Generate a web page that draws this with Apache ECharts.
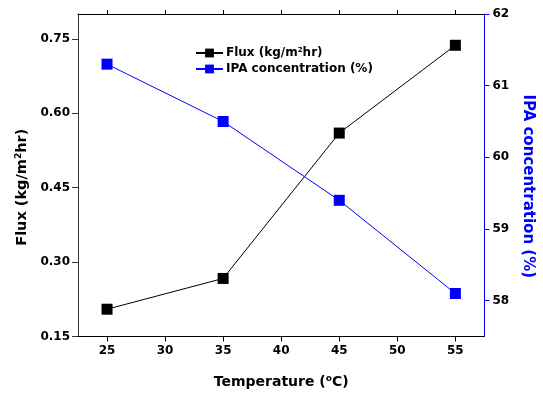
<!DOCTYPE html>
<html>
<head>
<meta charset="utf-8">
<script src="https://cdn.jsdelivr.net/npm/echarts@6/dist/echarts.min.js"></script>
<style>
    html, body { margin: 0; padding: 0; background: #fff; overflow: hidden; }
    #chart { width: 543px; height: 394px; }
</style>
</head>
<body>
<div id="chart"></div>
<script>
// 温度 (x) 与两组测量值
var temps = [25, 35, 45, 55];
var flux = [0.205, 0.267, 0.56, 0.737];
var ipa = [61.3, 60.5, 59.4, 58.1];

var xTicks = [25, 30, 35, 40, 45, 50, 55];
var fluxTicks = [0.15, 0.30, 0.45, 0.60, 0.75];
var ipaTicks = [58, 59, 60, 61, 62];

var FONT = 'DejaVu Sans';
var supStyle = { fontFamily: FONT, fontWeight: 'bold', fontSize: 9, verticalAlign: 'top', padding: [0, 0, 6, 0] };

function pairs(xs, ys) {
    var out = [];
    for (var i = 0; i < xs.length; i++) { out.push([xs[i], ys[i]]); }
    return out;
}

var myChart = echarts.init(document.getElementById('chart'), null, { renderer: 'canvas' });

var option = {
    animation: false,
    backgroundColor: '#fff',
    grid: { left: 78, right: 55, top: 14, bottom: 56, containLabel: false },
    legend: {
        left: 195,
        top: 47,
        padding: 0,
        orient: 'vertical',
        itemWidth: 27,
        itemHeight: 11,
        itemGap: 4,
        data: ['flux', 'ipa'],
        formatter: function (name) {
            return name === 'flux' ? 'Flux (kg/m{sup|2}hr)' : 'IPA concentration (%)';
        },
        textStyle: {
            fontFamily: FONT, fontWeight: 'bold', fontSize: 12, color: '#000', padding: [0, 0, 0, -2],
            rich: { sup: { fontFamily: FONT, fontWeight: 'bold', fontSize: 7, verticalAlign: 'top', padding: [0, 0, 5, 0] } }
        }
    },
    xAxis: [{
        type: 'value',
        min: 22.5,
        max: 57.5,
        position: 'bottom',
        name: 'Temperature ({sup|o}C)',
        nameLocation: 'middle',
        nameGap: 38,
        nameTextStyle: {
            fontFamily: FONT, fontWeight: 'bold', fontSize: 14, color: '#000',
            rich: { sup: supStyle }
        },
        splitLine: { show: false },
        axisLine: { show: true, lineStyle: { color: '#000', width: 1 } },
        axisTick: { show: true, inside: false, length: 5, lineStyle: { color: '#000' }, customValues: xTicks },
        axisLabel: { fontFamily: FONT, fontWeight: 'bold', fontSize: 12, color: '#000', margin: 8, customValues: xTicks }
    }, {
        type: 'value',
        min: 22.5,
        max: 57.5,
        position: 'top',
        splitLine: { show: false },
        axisLine: { show: true, lineStyle: { color: '#000', width: 1 } },
        axisTick: { show: true, inside: false, length: 4, lineStyle: { color: '#000' }, customValues: xTicks },
        axisLabel: { show: false }
    }],
    yAxis: [{
        type: 'value',
        min: 0.15,
        max: 0.80,
        position: 'left',
        name: 'Flux (kg/m{sup|2}hr)',
        nameLocation: 'middle',
        nameGap: 48,
        nameRotate: 90,
        nameTextStyle: {
            fontFamily: FONT, fontWeight: 'bold', fontSize: 14.5, color: '#000',
            padding: [0, 24, 0, 0],
            rich: { sup: supStyle }
        },
        splitLine: { show: false },
        axisLine: { show: true, lineStyle: { color: '#333', width: 1 } },
        axisTick: { show: true, inside: false, length: 6, lineStyle: { color: '#333' }, customValues: fluxTicks },
        axisLabel: {
            fontFamily: FONT, fontWeight: 'bold', fontSize: 12, color: '#000', margin: 8,
            customValues: fluxTicks,
            formatter: function (v) { return v.toFixed(2); }
        }
    }, {
        type: 'value',
        min: 57.5,
        max: 62,
        position: 'right',
        name: 'IPA concentration (%)',
        nameLocation: 'middle',
        nameGap: 34,
        nameRotate: -90,
        nameTextStyle: {
            fontFamily: FONT, fontWeight: 'bold', fontSize: 15, color: '#0000ff',
            padding: [0, 0, 0, 22]
        },
        splitLine: { show: false },
        axisLine: { show: true, lineStyle: { color: '#0000ff', width: 1 } },
        axisTick: { show: true, inside: false, length: 5, lineStyle: { color: '#0000ff' }, customValues: ipaTicks },
        axisLabel: {
            fontFamily: FONT, fontWeight: 'bold', fontSize: 12, color: '#000', margin: 8,
            customValues: ipaTicks
        }
    }],
    series: [{
        name: 'flux',
        type: 'line',
        xAxisIndex: 0,
        yAxisIndex: 0,
        data: pairs(temps, flux),
        symbol: 'rect',
        symbolSize: 11,
        itemStyle: { color: '#000' },
        lineStyle: { color: '#000', width: 1 }
    }, {
        name: 'ipa',
        type: 'line',
        xAxisIndex: 0,
        yAxisIndex: 1,
        data: pairs(temps, ipa),
        symbol: 'rect',
        symbolSize: 11,
        itemStyle: { color: '#0000ff' },
        lineStyle: { color: '#0000ff', width: 1 }
    }]
};

myChart.setOption(option);
</script>
</body>
</html>
